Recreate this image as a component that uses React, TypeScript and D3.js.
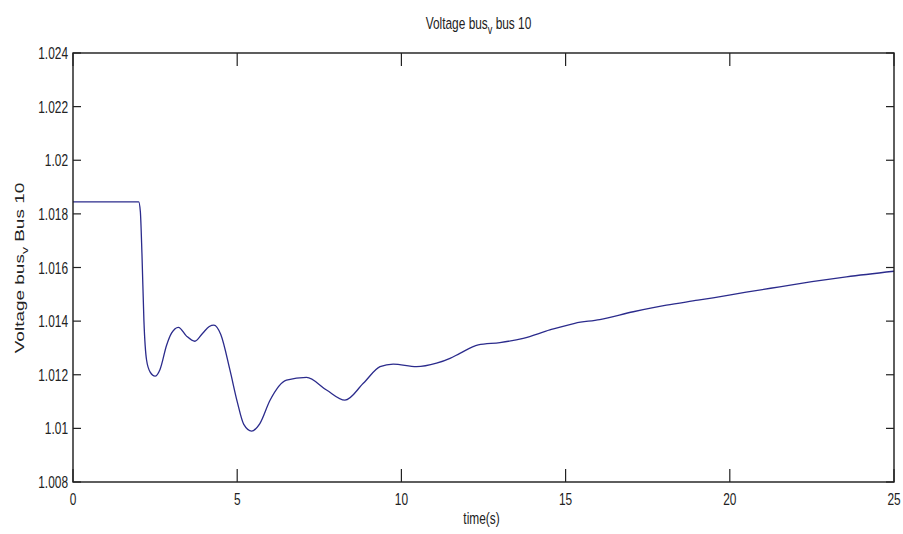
import React from "react";
import * as d3 from "d3";

const timeS: number[] = [0, 2.0, 2.05, 2.1, 2.16, 2.24, 2.35, 2.5, 2.65, 2.85, 3.0, 3.21, 3.45, 3.71, 3.95, 4.15, 4.29, 4.5, 4.78, 5.0, 5.2, 5.44, 5.69, 6.0, 6.5, 7.11, 7.72, 8.28, 8.84, 9.35, 9.75, 10.46, 11.07, 11.48, 11.78, 12.34, 13.0, 13.71, 14.52, 15.28, 16.04, 17.06, 18.07, 19.03, 19.49, 20.5, 21.52, 22.5, 23.55, 25];
const voltage: number[] = [1.01845, 1.01845, 1.0181, 1.0165, 1.0140, 1.01255, 1.0121, 1.01195, 1.0122, 1.0131, 1.01355, 1.01377, 1.01345, 1.01325, 1.01355, 1.0138, 1.01385, 1.0135, 1.01217, 1.0110, 1.01015, 1.0099, 1.01018, 1.01105, 1.0118, 1.0119, 1.01143, 1.01105, 1.01168, 1.0123, 1.0124, 1.0123, 1.01243, 1.01261, 1.0128, 1.01311, 1.0132, 1.01336, 1.01367, 1.01392, 1.01406, 1.01435, 1.0146, 1.01478, 1.01487, 1.01508, 1.01528, 1.01547, 1.01565, 1.01586];
const xTicks: number[] = [0, 5, 10, 15, 20, 25];
const yTicks: number[] = [1.008, 1.01, 1.012, 1.014, 1.016, 1.018, 1.02, 1.022, 1.024];

const W = 903, H = 534;
const L = 73, R = 894, T = 53, B = 482;
const SX = 0.7;
const FONT = "'Liberation Sans', Arial, Helvetica, sans-serif";

export default function App() {
  const x = d3.scaleLinear().domain([0, 25]).range([L, R]);
  const y = d3.scaleLinear().domain([1.008, 1.024]).range([B, T]);
  const pts = timeS.map((t, i) => [t, voltage[i]] as [number, number]);
  const line = d3.line<[number, number]>().x(d => x(d[0])).y(d => y(d[1])).curve(d3.curveMonotoneX);
  const fmt = (v: number) => String(+v.toFixed(3));

  return (
    <svg width={W} height={H} style={{ position: "absolute", left: 0, top: 0, background: "#fff" }} fontFamily={FONT}>
      <rect x={0} y={0} width={W} height={H} fill="#fff" />
      <path d={line(pts) || ""} fill="none" stroke="#2b2b8c" strokeWidth={1.3} />
      <rect x={L} y={T} width={R - L} height={B - T} fill="none" stroke="#1a1a1a" strokeWidth={1.4} />
      {xTicks.map(t => (
        <g key={"xt" + t}>
          <line x1={x(t)} x2={x(t)} y1={B} y2={B - 13} stroke="#222" strokeWidth={1.2} />
          <line x1={x(t)} x2={x(t)} y1={T} y2={T + 13} stroke="#222" strokeWidth={1.2} />
          <g transform={`translate(${x(t)},${505}) scale(${SX},1)`}>
            <text textAnchor="middle" fontSize={17} fill="#222">{t}</text>
          </g>
        </g>
      ))}
      {yTicks.map(v => (
        <g key={"yt" + v}>
          <line x1={L} x2={L + 8} y1={y(v)} y2={y(v)} stroke="#222" strokeWidth={1.2} />
          <line x1={R} x2={R - 8} y1={y(v)} y2={y(v)} stroke="#222" strokeWidth={1.2} />
          <g transform={`translate(${L - 5},${y(v) + 6}) scale(${SX},1)`}>
            <text textAnchor="end" fontSize={17} fill="#222">{fmt(v)}</text>
          </g>
        </g>
      ))}
      <g transform={`translate(${(L + R) / 2 - 5},29) scale(${SX},1)`}>
        <text textAnchor="middle" fontSize={17} fill="#222">
          Voltage bus<tspan fontSize={13} dy={5}>v</tspan><tspan dy={-5}> bus 10</tspan>
        </text>
      </g>
      <g transform={`translate(${(L + R) / 2 - 2},524) scale(${SX},1)`}>
        <text textAnchor="middle" fontSize={17} fill="#222">time(s)</text>
      </g>
      <g transform={`translate(24,268) rotate(-90) scale(1,${SX})`}>
        <text textAnchor="middle" fontSize={19} fill="#222">
          Voltage bus<tspan fontSize={14} dy={5}>v</tspan><tspan dy={-5}> Bus 10</tspan>
        </text>
      </g>
    </svg>
  );
}
